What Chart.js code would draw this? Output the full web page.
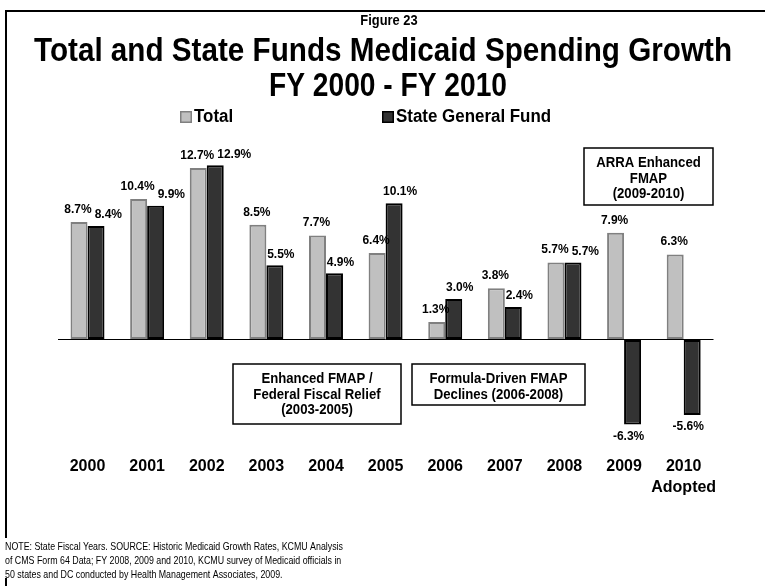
<!DOCTYPE html>
<html>
<head>
<meta charset="utf-8">
<script src="https://cdn.jsdelivr.net/npm/chart.js@4.4.1/dist/chart.umd.min.js"></script>
<style>
  html, body { margin: 0; padding: 0; background: #fff; }
  canvas { display: block; }
</style>
</head>
<body>
<canvas id="chart" width="765" height="586"></canvas>
<script>
const years = ['2000', '2001', '2002', '2003', '2004', '2005', '2006', '2007', '2008', '2009', ['2010', 'Adopted']];
const totalGrowth = [8.7, 10.4, 12.7, 8.5, 7.7, 6.4, 1.3, 3.8, 5.7, 7.9, 6.3];
const stateGrowth = [8.4, 9.9, 12.9, 5.5, 4.9, 10.1, 3.0, 2.4, 5.7, -6.3, -5.6];
const seriesNames = ['Total', 'State General Fund'];
const figureLabel = 'Figure 23';
const titleLines = ['Total and State Funds Medicaid Spending Growth', 'FY 2000 - FY 2010'];
const noteLines = [
    'NOTE: State Fiscal Years. SOURCE: Historic Medicaid Growth Rates, KCMU Analysis',
    'of CMS Form 64 Data; FY 2008, 2009 and 2010, KCMU survey of Medicaid officials in',
    '50 states and DC conducted by Health Management Associates, 2009.'
];
const calloutTexts = [
    ['Enhanced FMAP /', 'Federal Fiscal Relief', '(2003-2005)'],
    ['Formula-Driven FMAP', 'Declines (2006-2008)'],
    ['ARRA Enhanced', 'FMAP', '(2009-2010)']
];

const FONT = "'Liberation Sans', Arial, sans-serif";

// where the callout boxes sit, in canvas pixels
const calloutBoxes = [
    { x: 233, y: 364, w: 168, h: 60 },
    { x: 412, y: 364, w: 173, h: 41 },
    { x: 584, y: 148, w: 129, h: 57 }
];
const legendSpots = [180, 382];

// squeeze text horizontally, the original uses a narrow face
function narrowText(ctx, text, x, y, sx) {
    ctx.save();
    ctx.translate(x, y);
    ctx.scale(sx, 1);
    ctx.fillText(text, 0, 0);
    ctx.restore();
}

const decor = {
    id: 'decor',
    beforeDraw(chart) {
        const ctx = chart.ctx;
        ctx.save();
        ctx.fillStyle = '#fff';
        ctx.fillRect(0, 0, chart.width, chart.height);

        ctx.strokeStyle = '#000';
        ctx.lineWidth = 2;
        ctx.strokeRect(6, 11, 900, 900);

        ctx.fillStyle = '#000';
        ctx.textAlign = 'center';
        ctx.textBaseline = 'middle';
        ctx.font = `bold 14px ${FONT}`;
        narrowText(ctx, figureLabel, 389, 21, 0.92);
        ctx.font = `bold 33px ${FONT}`;
        const sx = 698 / ctx.measureText(titleLines[0]).width;
        narrowText(ctx, titleLines[0], 383, 52, sx);
        narrowText(ctx, titleLines[1], 388, 87, sx * 0.95);

        // legend
        ctx.textAlign = 'left';
        ctx.font = `bold 18px ${FONT}`;
        chart.data.datasets.forEach((ds, i) => {
            const x = legendSpots[i];
            ctx.fillStyle = ds.backgroundColor;
            ctx.fillRect(x, 111, 12, 12);
            ctx.strokeStyle = ds.borderColor;
            ctx.lineWidth = 1.5;
            ctx.strokeRect(x + 0.75, 111.75, 10.5, 10.5);
            ctx.fillStyle = '#000';
            narrowText(ctx, ds.label, x + 14, 117.5, 0.94);
        });
        ctx.restore();
    },
    afterDatasetsDraw(chart) {
        const ctx = chart.ctx;
        ctx.save();
        ctx.fillStyle = '#000';
        ctx.textAlign = 'center';
        ctx.textBaseline = 'middle';
        ctx.font = `bold 12px ${FONT}`;
        const [m0, m1] = [0, 1].map(i => chart.getDatasetMeta(i).data);
        years.forEach((_, i) => {
            const v0 = totalGrowth[i], v1 = stateGrowth[i];
            const t0 = v0.toFixed(1) + '%', t1 = v1.toFixed(1) + '%';
            const w0 = ctx.measureText(t0).width, w1 = ctx.measureText(t1).width;
            let x0 = m0[i].x - 1;
            let y0 = m0[i].y - 12.5;
            let x1, y1;
            if (v1 >= 0) {
                x1 = m1[i].x + 6;
                y1 = m1[i].y - 11;
                // keep neighbouring labels from running into each other
                if (Math.abs(y1 - y0) < 13 && x1 - w1 / 2 < x0 + w0 / 2 + 3) {
                    x1 = x0 + w0 / 2 + 3 + w1 / 2;
                }
            } else {
                x1 = m1[i].x - 4;
                y1 = m1[i].y + 12;
            }
            ctx.fillText(t0, x0, y0);
            ctx.fillText(t1, x1, y1);
        });
        ctx.restore();
    },
    afterDraw(chart) {
        const ctx = chart.ctx;
        ctx.save();
        ctx.textAlign = 'center';
        ctx.textBaseline = 'middle';
        ctx.font = `bold 14px ${FONT}`;
        calloutBoxes.forEach((b, i) => {
            ctx.fillStyle = '#fff';
            ctx.fillRect(b.x, b.y, b.w, b.h);
            ctx.strokeStyle = '#000';
            ctx.lineWidth = 1.5;
            ctx.strokeRect(b.x, b.y, b.w, b.h);
            ctx.fillStyle = '#000';
            calloutTexts[i].forEach((t, j) => narrowText(ctx, t, b.x + b.w / 2, b.y + 15 + j * 15.8, 0.94));
        });

        // note sits on a white patch that hides the frame
        ctx.fillStyle = '#fff';
        ctx.fillRect(0, 538, 380, 40);
        ctx.fillStyle = '#000';
        ctx.textAlign = 'left';
        ctx.font = `11px ${FONT}`;
        const nsx = 338 / ctx.measureText(noteLines[0]).width;
        noteLines.forEach((t, i) => narrowText(ctx, t, 5, 547 + i * 14, nsx));
        ctx.restore();
    }
};

new Chart(document.getElementById('chart'), {
    type: 'bar',
    data: {
        labels: years,
        datasets: [
            {
                label: seriesNames[0],
                data: totalGrowth,
                backgroundColor: '#c0c0c0',
                borderColor: '#808080',
                borderWidth: 2,
                borderSkipped: false,
            },
            {
                label: seriesNames[1],
                data: stateGrowth,
                backgroundColor: '#333333',
                borderColor: '#000000',
                borderWidth: 2,
                borderSkipped: false,
            }
        ]
    },
    options: {
        responsive: false,
        animation: false,
        categoryPercentage: 0.57,
        barPercentage: 1.0,
        layout: {
            padding: { top: 150.5, left: 57.7, right: 51.5, bottom: 65.2 }
        },
        plugins: {
            legend: { display: false },
            title: { display: false },
            tooltip: { enabled: false }
        },
        scales: {
            x: {
                grid: { display: false, drawTicks: false },
                border: { display: false },
                ticks: {
                    color: '#000',
                    padding: 22.6,
                    maxRotation: 0,
                    minRotation: 0,
                    autoSkip: false,
                    font: { family: FONT, size: 16, weight: 'bold', lineHeight: 1.3 }
                }
            },
            y: {
                min: -7,
                max: 14,
                ticks: { display: false, stepSize: 7 },
                border: { display: false },
                grid: {
                    drawTicks: false,
                    lineWidth: 1,
                    color: c => c.tick && c.tick.value === 0 ? '#000' : 'rgba(0,0,0,0)'
                }
            }
        }
    },
    plugins: [decor]
});
</script>
</body>
</html>
